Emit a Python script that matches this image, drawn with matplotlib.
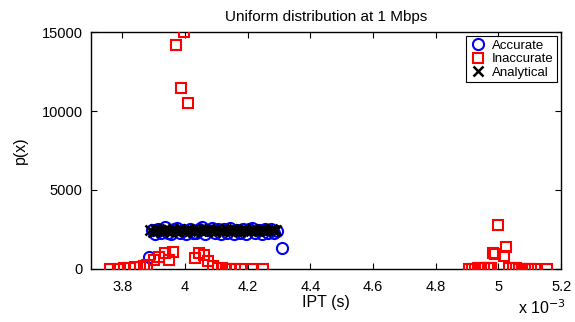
import matplotlib
matplotlib.use("Agg")
import matplotlib.pyplot as plt
from matplotlib.ticker import FuncFormatter

plt.rcParams['font.family'] = ['Liberation Sans', 'DejaVu Sans']

# IPT in milliseconds (plotted in seconds)
acc_x = [3.886, 3.895, 3.905, 3.915, 3.925, 3.935, 3.945, 3.955, 3.965, 3.975,
         3.985, 3.995, 4.005, 4.015, 4.025, 4.035, 4.045, 4.055, 4.065, 4.075,
         4.085, 4.095, 4.105, 4.115, 4.125, 4.135, 4.145, 4.155, 4.165, 4.175,
         4.185, 4.195, 4.205, 4.215, 4.225, 4.235, 4.245, 4.255, 4.265, 4.275,
         4.285, 4.295, 4.311]
acc_y = [780, 2450, 2200, 2550, 2250, 2650, 2300, 2200, 2500, 2600,
         2250, 2450, 2200, 2550, 2300, 2250, 2500, 2650, 2200, 2450,
         2600, 2250, 2500, 2200, 2550, 2300, 2600, 2200, 2450, 2250,
         2550, 2200, 2500, 2600, 2250, 2450, 2200, 2550, 2300, 2500,
         2250, 2400, 1310]

ana_x = [3.890, 3.897, 3.903, 3.910, 3.917, 3.923, 3.930, 3.937, 3.943, 3.950,
         3.957, 3.963, 3.970, 3.977, 3.983, 3.990, 3.997, 4.003, 4.010, 4.017,
         4.023, 4.030, 4.037, 4.043, 4.050, 4.057, 4.063, 4.070, 4.077, 4.083,
         4.090, 4.097, 4.103, 4.110, 4.117, 4.123, 4.130, 4.137, 4.143, 4.150,
         4.157, 4.163, 4.170, 4.177, 4.183, 4.190, 4.197, 4.203, 4.210, 4.217,
         4.223, 4.230, 4.237, 4.243, 4.250, 4.257, 4.263, 4.270, 4.277, 4.283,
         4.290]
ana_y = [2450, 2350, 2500, 2400, 2550, 2450, 2380, 2520, 2420, 2480,
         2350, 2500, 2430, 2400, 2550, 2450, 2380, 2480, 2520, 2400,
         2460, 2350, 2500, 2440, 2420, 2540, 2380, 2470, 2500, 2410,
         2450, 2360, 2520, 2430, 2480, 2400, 2500, 2440, 2380, 2530,
         2450, 2410, 2490, 2370, 2460, 2520, 2400, 2450, 2380, 2500,
         2430, 2470, 2410, 2520, 2440, 2390, 2480, 2450, 2500, 2420,
         2460]

inacc_x = [3.760, 3.785, 3.805, 3.826, 3.842, 3.858, 3.870, 3.880, 3.900, 3.918,
           3.937, 3.950, 3.961, 3.973, 3.986, 3.997, 4.010, 4.031, 4.044, 4.061,
           4.074, 4.090, 4.105, 4.117, 4.130, 4.144, 4.160, 4.180, 4.214, 4.250,
           4.906, 4.915, 4.925, 4.935, 4.945, 4.955, 4.965, 4.970, 4.977, 4.983,
           4.988, 5.000, 5.017, 5.023, 5.035, 5.045, 5.055, 5.065, 5.075, 5.085,
           5.095, 5.105, 5.116, 5.155]
inacc_y = [0, 10, 30, 60, 90, 130, 180, 250, 570, 780,
           990, 570, 1050, 14220, 11440, 15000, 10530, 720, 990, 890,
           500, 210, 80, 40, 20, 10, 5, 0, 0, 0,
           0, 10, 20, 30, 40, 60, 80, 60, 40, 1032,
           930, 2785, 823, 1411, 60, 40, 30, 20, 10, 5,
           10, 5, 0, 0]

fig = plt.figure(figsize=(5.75, 3.22), dpi=100)
ax = fig.add_axes([0.158, 0.165, 0.818, 0.735])

ax.plot([v * 1e-3 for v in acc_x], acc_y, 'o', mfc='none', mec='#0000ff',
        ms=8, mew=1.5, label='Accurate', zorder=3)
ax.plot([v * 1e-3 for v in inacc_x], inacc_y, 's', mfc='none', mec='#ff0000',
        ms=7, mew=1.5, label='Inaccurate', zorder=4)
ax.plot([v * 1e-3 for v in ana_x], ana_y, 'x', color='black',
        ms=6.5, mew=1.8, label='Analytical', zorder=5)

ax.set_xlim(3.7e-3, 5.2e-3)
ax.set_ylim(0, 15000)
ax.set_xticks([3.8e-3, 4.0e-3, 4.2e-3, 4.4e-3, 4.6e-3, 4.8e-3, 5.0e-3, 5.2e-3])
ax.set_yticks([0, 5000, 10000, 15000])
ax.xaxis.set_major_formatter(FuncFormatter(lambda v, p: '%g' % round(v * 1e3, 3)))
ax.tick_params(direction='in', top=True, right=True, labelsize=10.5, length=4)
ax.tick_params(axis='x', pad=8)
ax.tick_params(axis='y', pad=6)
for s in ax.spines.values():
    s.set_linewidth(1.0)

ax.set_title('Uniform distribution at 1 Mbps', fontsize=11, pad=8)
ax.set_xlabel('IPT (s)', fontsize=11.5, labelpad=1)
ax.set_ylabel('p(x)', fontsize=11.5, labelpad=10)
ax.text(0.96, -0.125, r'x 10$^{-3}$', transform=ax.transAxes,
        ha='center', va='top', fontsize=11.5)

leg = ax.legend(loc='upper right', fontsize=9.5, fancybox=False, framealpha=1,
                edgecolor='black', handletextpad=0.4, borderpad=0.25,
                labelspacing=0.1, handlelength=1.3, borderaxespad=0.3)
leg.get_frame().set_linewidth(0.8)

fig.savefig('out.png', dpi=100)
